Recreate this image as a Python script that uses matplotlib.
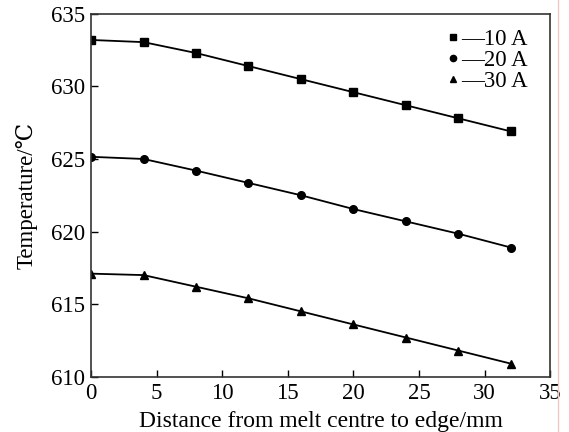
import matplotlib.pyplot as plt
from matplotlib.lines import Line2D

plt.rcParams['font.family'] = ['Liberation Serif', 'DejaVu Serif', 'DejaVu Sans']

distance = [0, 4, 8, 12, 16, 20, 24, 28, 32]
temp_10A = [633.2, 633.05, 632.3, 631.4, 630.5, 629.6, 628.7, 627.8, 626.9]
temp_20A = [625.15, 625.0, 624.2, 623.35, 622.5, 621.55, 620.7, 619.85, 618.9]
temp_30A = [617.1, 617.0, 616.2, 615.4, 614.5, 613.6, 612.7, 611.8, 610.9]

series = [
    (temp_10A, "s", "\u201410 A"),
    (temp_20A, "o", "\u201420 A"),
    (temp_30A, "^", "\u201430 A"),
]

fig = plt.figure(figsize=(5.69, 4.32), dpi=100)
ax = fig.add_axes([0.16, 0.128, 0.807, 0.84])

handles = []
for vals, mk, lab in series:
    ax.plot(distance, vals, color="black", linewidth=1.3, marker=mk, markersize=5.5)
    handles.append(Line2D([], [], color="black", linestyle="none", marker=mk,
                          markersize=4.5, label=lab))

ax.set_xlim(0, 35)
ax.set_ylim(610, 635)
ax.set_xticks([0, 5, 10, 15, 20, 25, 30, 35])
ax.set_yticks([610, 615, 620, 625, 630, 635])
ax.tick_params(direction="in", length=5, width=1, labelsize=16.5,
               top=False, right=False)
ax.tick_params(axis="x", pad=4.5)
ax.tick_params(axis="y", pad=4)
for sp in ax.spines.values():
    sp.set_linewidth(1.2)
    sp.set_color("#333333")

ax.set_xlabel("Distance from melt centre to edge/mm", fontsize=17, labelpad=5)
ax.set_ylabel("Temperature/\u2103", fontsize=16.5, labelpad=10)

ax.legend(handles=handles, loc="upper right", bbox_to_anchor=(0.95, 0.958),
          frameon=False, fontsize=16.5, handlelength=0.4, handletextpad=0.15,
          labelspacing=0.0, borderaxespad=0, borderpad=0)

# faint pink border line at the right edge of the scan
fig.add_artist(Line2D([0.981, 0.981], [0.0, 1.0], color="#f4c6c6", linewidth=1,
                      transform=fig.transFigure))

fig.savefig("out.png", dpi=100)
